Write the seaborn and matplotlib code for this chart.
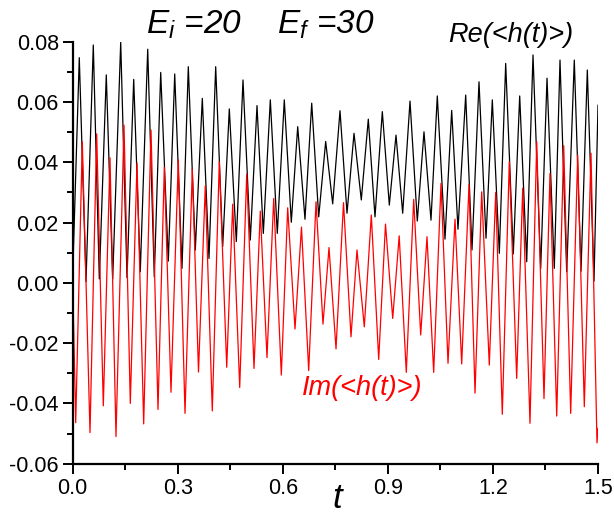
import numpy as np
import pandas as pd
import matplotlib
matplotlib.use("Agg")
import matplotlib.pyplot as plt
from matplotlib.ticker import MultipleLocator
import seaborn as sns

# ---- data (extrema of each oscillation) ----
re_t = [0.0, 0.0188, 0.0380, 0.0588, 0.0760, 0.0959, 0.1142, 0.1371, 0.1551, 0.1742,
        0.1930, 0.2142, 0.2330, 0.2513, 0.2730, 0.2913, 0.3121, 0.3301, 0.3501, 0.3701,
        0.3892, 0.4083, 0.4283, 0.4472, 0.4672, 0.4863, 0.5071, 0.5263, 0.5443, 0.5643,
        0.5842, 0.6042, 0.6242, 0.6425, 0.6633, 0.6825, 0.7025, 0.7224, 0.7424, 0.7633,
        0.7833, 0.8033, 0.8241, 0.8441, 0.8632, 0.8841, 0.9041, 0.9232, 0.9423, 0.9632,
        0.9840, 1.0031, 1.0231, 1.0411, 1.0631, 1.0822, 1.1002, 1.1222, 1.1402, 1.1602,
        1.1802, 1.1982, 1.2182, 1.2364, 1.2581, 1.2764, 1.2964, 1.3144, 1.3364, 1.3544,
        1.3752, 1.3915, 1.4106, 1.4323, 1.4515, 1.4695, 1.4886, 1.5000]
re_v = [0.0030, 0.0747, 0.0004, 0.0789, 0.0013, 0.0690, 0.0013, 0.0798, 0.0017, 0.0675,
        0.0037, 0.0775, 0.0020, 0.0698, 0.0072, 0.0693, 0.0048, 0.0717, 0.0109, 0.0612,
        0.0081, 0.0717, 0.0120, 0.0577, 0.0137, 0.0673, 0.0142, 0.0588, 0.0164, 0.0607,
        0.0164, 0.0607, 0.0201, 0.0518, 0.0211, 0.0596, 0.0219, 0.0469, 0.0262, 0.0571,
        0.0231, 0.0496, 0.0275, 0.0543, 0.0219, 0.0568, 0.0258, 0.0490, 0.0231, 0.0603,
        0.0205, 0.0501, 0.0208, 0.0620, 0.0145, 0.0572, 0.0178, 0.0623, 0.0109, 0.0667,
        0.0148, 0.0607, 0.0098, 0.0728, 0.0096, 0.0620, 0.0070, 0.0756, 0.0048, 0.0679,
        0.0048, 0.0739, 0.0037, 0.0739, 0.0039, 0.0706, 0.0006, 0.0590]

im_t = [0.0, 0.0086, 0.0274, 0.0494, 0.0685, 0.0874, 0.1065, 0.1236, 0.1465, 0.1645,
        0.1836, 0.2027, 0.2236, 0.2436, 0.2616, 0.2807, 0.3015, 0.3207, 0.3415, 0.3592,
        0.3786, 0.3986, 0.4186, 0.4398, 0.4569, 0.4769, 0.4969, 0.5177, 0.5357, 0.5548,
        0.5740, 0.5957, 0.6139, 0.6348, 0.6533, 0.6739, 0.6948, 0.7147, 0.7319, 0.7519,
        0.7733, 0.7947, 0.8118, 0.8327, 0.8527, 0.8738, 0.8932, 0.9138, 0.9323, 0.9526,
        0.9737, 0.9937, 1.0117, 1.0308, 1.0517, 1.0717, 1.0917, 1.1108, 1.1317, 1.1488,
        1.1679, 1.1896, 1.2079, 1.2267, 1.2467, 1.2678, 1.2850, 1.3058, 1.3250, 1.3458,
        1.3629, 1.3821, 1.4021, 1.4220, 1.4420, 1.4609, 1.4800, 1.4971, 1.5000]
im_v = [0.0, -0.0464, 0.0468, -0.0497, 0.0494, -0.0408, 0.0415, -0.0510, 0.0523, -0.0400,
        0.0397, -0.0468, 0.0507, -0.0420, 0.0383, -0.0363, 0.0408, -0.0433, 0.0377, -0.0296,
        0.0322, -0.0425, 0.0402, -0.0280, 0.0261, -0.0347, 0.0361, -0.0284, 0.0238, -0.0248,
        0.0280, -0.0306, 0.0249, -0.0153, 0.0185, -0.0291, 0.0269, -0.0137, 0.0117, -0.0219,
        0.0266, -0.0179, 0.0109, -0.0146, 0.0225, -0.0254, 0.0195, -0.0118, 0.0156, -0.0297,
        0.0277, -0.0173, 0.0153, -0.0297, 0.0330, -0.0267, 0.0211, -0.0269, 0.0327, -0.0366,
        0.0302, -0.0273, 0.0300, -0.0436, 0.0402, -0.0317, 0.0314, -0.0466, 0.0468, -0.0384,
        0.0363, -0.0442, 0.0455, -0.0433, 0.0424, -0.0411, 0.0430, -0.0531, -0.0482]

x_ticks = [0.0, 0.3, 0.6, 0.9, 1.2, 1.5]
x_ticklabels = ["0.0", "0.3", "0.6", "0.9", "1.2", "1.5"]
y_ticks = [-0.06, -0.04, -0.02, 0.00, 0.02, 0.04, 0.06, 0.08]
y_ticklabels = ["-0.06", "-0.04", "-0.02", "0.00", "0.02", "0.04", "0.06", "0.08"]

title_text = r"$E_i$ =20    $E_f$ =30"
re_label = "Re(<h(t)>)"
im_label = "Im(<h(t)>)"
x_label = "t"

# ---- styling ----
sns.set_theme(style="ticks")
plt.rcParams["font.family"] = ["Liberation Sans", "DejaVu Sans"]
plt.rcParams["mathtext.fontset"] = "custom"
plt.rcParams["mathtext.it"] = "Liberation Sans:italic"
plt.rcParams["mathtext.rm"] = "Liberation Sans"

df_re = pd.DataFrame({"t": re_t, "v": re_v})
df_im = pd.DataFrame({"t": im_t, "v": im_v})

fig = plt.figure(figsize=(6.14, 5.15), dpi=100)
ax = fig.add_axes([72.7 / 614, 1 - 463.7 / 515, (598 - 72.7) / 614, (463.7 - 41.7) / 515])

sns.lineplot(data=df_re, x="t", y="v", ax=ax, color="black", linewidth=0.9,
             sort=False, estimator=None)
sns.lineplot(data=df_im, x="t", y="v", ax=ax, color="#ff0000", linewidth=0.9,
             sort=False, estimator=None)

ax.set_xlim(0, 1.5)
ax.set_ylim(-0.06, 0.08)
ax.set_xticks(x_ticks)
ax.set_xticklabels(x_ticklabels)
ax.set_yticks(y_ticks)
ax.set_yticklabels(y_ticklabels)
ax.xaxis.set_minor_locator(MultipleLocator(0.15))
ax.yaxis.set_minor_locator(MultipleLocator(0.01))
ax.tick_params(axis="both", which="major", direction="out", length=7, width=1.4,
               labelsize=15.5, color="black", labelcolor="black", pad=3)
ax.tick_params(axis="both", which="minor", direction="out", length=4, width=1.4,
               color="black")
for s in ["top", "right"]:
    ax.spines[s].set_visible(False)
for s in ["left", "bottom"]:
    ax.spines[s].set_linewidth(1.6)
    ax.spines[s].set_color("black")
ax.set_xlabel("")
ax.set_ylabel("")

ax.text(0.357, 1.04, title_text, transform=ax.transAxes, fontsize=24, style="italic",
        ha="center", va="center", color="black")
ax.text(0.7145, 1.016, re_label, transform=ax.transAxes, fontsize=19.5, style="italic",
        ha="left", va="center", color="black")
ax.text(0.4365, 0.179, im_label, transform=ax.transAxes, fontsize=19.5, style="italic",
        ha="left", va="center", color="#ff0000")
ax.text(0.503, -0.082, x_label, transform=ax.transAxes, fontsize=25, style="italic",
        ha="center", va="center", color="black")

fig.savefig("out.png", dpi=100)
